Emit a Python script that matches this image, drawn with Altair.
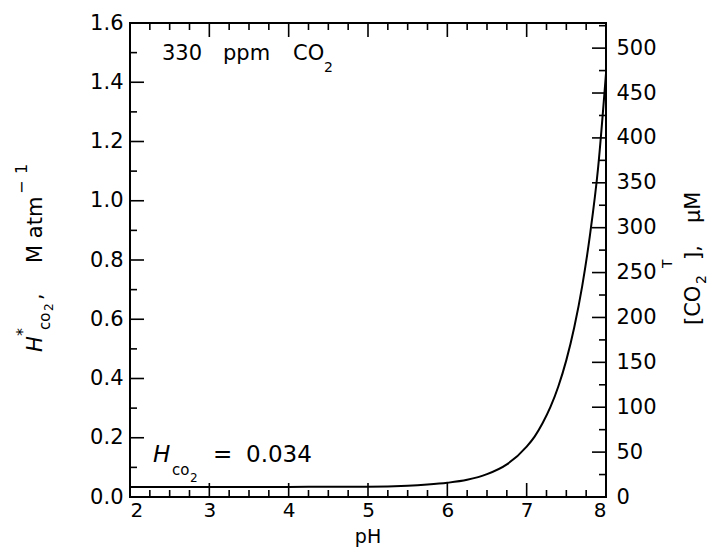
import altair as alt
import pandas as pd

FONT = "DejaVu Sans"

# curve
ph = [2.0, 3.0, 4.0, 4.5, 5.0, 5.5, 5.75, 6.0, 6.25, 6.5, 6.75, 7.0, 7.1, 7.2, 7.3, 7.4,
      7.5, 7.6, 7.7, 7.8, 7.9, 8.0]
hstar = [0.034, 0.034, 0.034, 0.035, 0.035, 0.038, 0.042, 0.048, 0.058, 0.077, 0.110, 0.170,
         0.204, 0.249, 0.304, 0.374, 0.462, 0.573, 0.712, 0.888, 1.11, 1.43]

# axis tick values
x_labels = [2, 3, 4, 5, 6, 7, 8]
x_major = [3, 4, 5, 6, 7]
x_minor = [2.25, 2.5, 2.75, 3.25, 3.5, 3.75, 4.25, 4.5, 4.75, 5.25, 5.5, 5.75,
           6.25, 6.5, 6.75, 7.25, 7.5, 7.75]
left_labels = [0.0, 0.2, 0.4, 0.6, 0.8, 1.0, 1.2, 1.4, 1.6]
left_major = [0.2, 0.4, 0.6, 0.8, 1.0, 1.2, 1.4]
left_minor = [0.1, 0.3, 0.5, 0.7, 0.9, 1.1, 1.3, 1.5]
right_labels = [0, 50, 100, 150, 200, 250, 300, 350, 400, 450, 500]
right_major = [50, 100, 150, 200, 250, 300, 350, 400, 450, 500]
right_minor = [25, 75, 125, 175, 225, 275, 325, 375, 425, 475, 525]

X_DOMAIN = [2, 8]
LEFT_DOMAIN = [0, 1.6]
RIGHT_DOMAIN = [0, 528]

W, H = 476, 474
MAJ, MIN = 14, 7
TW = 1.6

curve_df = pd.DataFrame({"pH": ph, "H": hstar})
xs = alt.Scale(domain=X_DOMAIN, nice=False, zero=False)
ys = alt.Scale(domain=LEFT_DOMAIN, nice=False)
rs = alt.Scale(domain=RIGHT_DOMAIN, nice=False)

X_AXIS = alt.Axis(values=x_labels, format="d", title=None, labelPadding=3, labelFontSize=20)
Y_AXIS = alt.Axis(values=left_labels, format=".1f", title=None, labelPadding=7)
R_AXIS = alt.Axis(orient="right", values=right_labels, format="d", title=None, labelPadding=10)

curve = alt.Chart(curve_df).mark_line(color="black", strokeWidth=2, interpolate="monotone").encode(
    x=alt.X("pH:Q", scale=xs, axis=X_AXIS, title=None),
    y=alt.Y("H:Q", scale=ys, axis=Y_AXIS, title=None),
)


def vals(v):
    return pd.DataFrame({"v": v})


def yticks(v, length):
    return alt.Chart(vals(v)).mark_rule(color="black", strokeWidth=TW).encode(
        y=alt.Y("v:Q", scale=ys, axis=Y_AXIS, title=None), x=alt.value(0), x2=alt.value(length))


def xticks_bottom(v, length):
    return alt.Chart(vals(v)).mark_rule(color="black", strokeWidth=TW).encode(
        x=alt.X("v:Q", scale=xs, axis=X_AXIS, title=None), y=alt.value(H), y2=alt.value(H - length))


def xticks_top(v, length):
    return alt.Chart(vals(v)).mark_rule(color="black", strokeWidth=TW).encode(
        x=alt.X("v:Q", scale=xs, axis=X_AXIS, title=None), y=alt.value(0), y2=alt.value(length))


def txt(s, px, py, size=21, angle=0, baseline="alphabetic", style="normal", align="left"):
    return alt.Chart(alt.Data(values=[{"a": 1}])).mark_text(
        text=s, font=FONT, fontSize=size, angle=angle, align=align, baseline=baseline,
        fontStyle=style, color="black").encode(x=alt.value(px), y=alt.value(py))


texts = [
    # x axis title
    txt("pH", W / 2, 524, size=19, baseline="bottom", align="center"),
    # top-left annotation
    txt("330", 32, 37), txt("ppm", 93, 37), txt("CO", 163, 37), txt("2", 194, 49, size=14),
    # bottom-left annotation
    txt("H", 23, 439, size=23, style="italic"), txt("co", 42, 452, size=15),
    txt("2", 60, 459, size=12),
    txt("=", 83, 439, size=23), txt("0.034", 116, 439, size=23),
    # left title (rotated)
    txt("H", -88, 329, angle=270, style="italic"),
    txt("*", -102, 313, size=16, angle=270),
    txt("co", -80, 307, angle=270, size=15),
    txt("2", -77, 288, angle=270, size=12),
    txt(",", -88, 277, angle=270),
    txt("M atm", -88, 240, angle=270),
    txt("\u2212", -103, 171, angle=270, size=16),
    txt("1", -103, 151, angle=270, size=16),
    # right title (rotated)
    txt("[CO", 570, 302, angle=270),
    txt("2", 576, 261, angle=270, size=14),
    txt("T", 542, 245, angle=270, size=14),
    txt("],", 570, 237, angle=270),
    txt("\u03bcM", 570, 200, angle=270),
]

left_group = alt.layer(
    curve,
    yticks(left_major, MAJ), yticks(left_minor, MIN),
    xticks_bottom(x_major, MAJ), xticks_bottom(x_minor, MIN),
    xticks_top(x_major, MAJ), xticks_top(x_minor, MIN),
    *texts,
)

right_major_l = alt.Chart(vals(right_major)).mark_rule(color="black", strokeWidth=TW).encode(
    y=alt.Y("v:Q", scale=rs, axis=R_AXIS, title=None),
    x=alt.value(W - MAJ), x2=alt.value(W))
right_minor_l = alt.Chart(vals(right_minor)).mark_rule(color="black", strokeWidth=TW).encode(
    y=alt.Y("v:Q", scale=rs, axis=R_AXIS, title=None),
    x=alt.value(W - MIN), x2=alt.value(W))
right_group = alt.layer(right_major_l, right_minor_l)

chart = alt.layer(left_group, right_group).resolve_scale(y="independent").properties(
    width=W, height=H,
    autosize=alt.AutoSizeParams(type="none"),
    padding={"left": 122, "top": 15, "right": 104, "bottom": 51},
    background="white",
).configure_view(stroke="black", strokeWidth=2).configure_axis(
    labelFont=FONT, labelFontSize=21, labelColor="black", grid=False, domain=False,
    ticks=False, tickSize=0,
)

chart.save("out.html", embed_options={"renderer": "svg", "actions": False})
